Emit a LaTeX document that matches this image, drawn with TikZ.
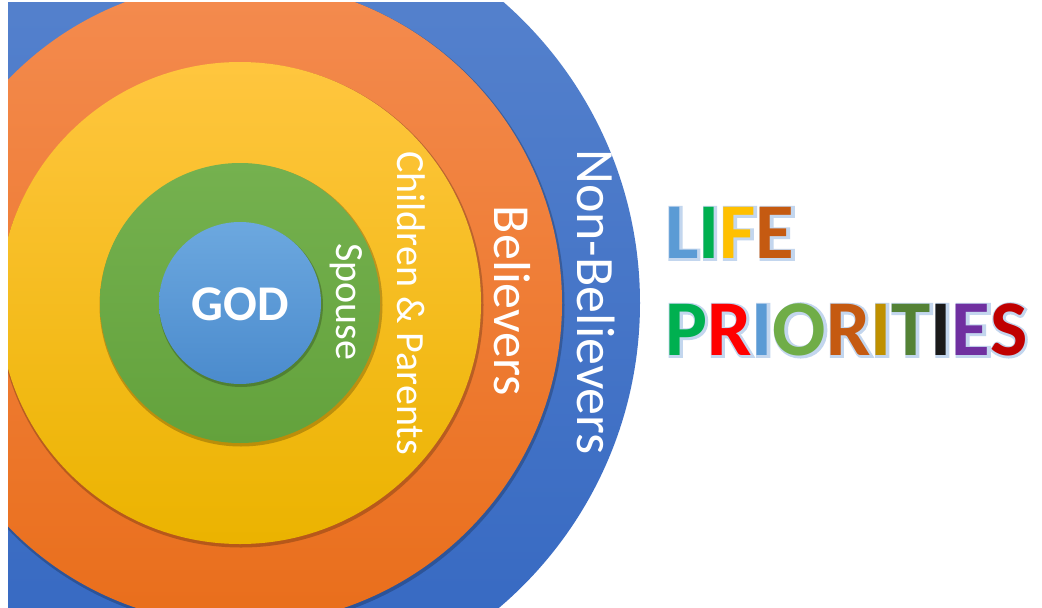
\documentclass[tikz,border=0pt]{standalone}
\usepackage{fontspec}
\setmainfont{Carlito}
\newfontfamily\halofont{Carlito}[BoldFont={Carlito Bold}, BoldFeatures={FakeBold=5}]
\definecolor{blueTop}{HTML}{5884CE}
\definecolor{blueBot}{HTML}{3467C1}
\definecolor{orTop}{HTML}{F48B4F}
\definecolor{orBot}{HTML}{E96E1B}
\definecolor{yeTop}{HTML}{FFC63F}
\definecolor{yeBot}{HTML}{EBB300}
\definecolor{grTop}{HTML}{75B14F}
\definecolor{grBot}{HTML}{63A23C}
\definecolor{goTop}{HTML}{6CA8DF}
\definecolor{goBot}{HTML}{4B8BCD}
\definecolor{halo}{HTML}{C3D6EE}
\definecolor{cL}{HTML}{5B9BD5}
\definecolor{cI}{HTML}{00B050}
\definecolor{cF}{HTML}{FFC000}
\definecolor{cE}{HTML}{C55A11}
\definecolor{cP}{HTML}{00B050}
\definecolor{cR}{HTML}{FF0000}
\definecolor{cIb}{HTML}{5B9BD5}
\definecolor{cO}{HTML}{70AD47}
\definecolor{cRb}{HTML}{C55A11}
\definecolor{cIg}{HTML}{BF9000}
\definecolor{cT}{HTML}{548235}
\definecolor{cIk}{HTML}{1A1A1A}
\definecolor{cEp}{HTML}{7030A0}
\definecolor{cS}{HTML}{C00000}
\newif\ifhalo
\newcommand\ltr[2]{\ifhalo#2\else\textcolor{#1}{#2}\fi}
\newcommand\lifeword{\ltr{cL}{L}\ltr{cI}{I}\ltr{cF}{F}\ltr{cE}{E}}
\newcommand\priword{\ltr{cP}{P}\ltr{cR}{R}\ltr{cIb}{I}\ltr{cO}{O}\ltr{cRb}{R}\ltr{cIg}{I}\ltr{cT}{T}\ltr{cIk}{I}\ltr{cEp}{E}\ltr{cS}{S}}
\tikzset{
  ring/.style={draw=none},
  ringshadow/.style={fill=black, opacity=0.22},
  ringtext/.style={text=white, font=\fontsize{#1}{#1}\selectfont, inner sep=0pt, rotate=-90},
  titletext/.style={anchor=base west, inner sep=0pt, font=\bfseries\fontsize{79}{79}\selectfont},
  titlehalo/.style={anchor=base west, inner sep=0pt, text=halo, font=\halofont\bfseries\fontsize{79}{79}\selectfont}
}
\begin{document}
\begin{tikzpicture}[x=1pt,y=-1pt]
\useasboundingbox (0,0) rectangle (1042,608);
\fill[white] (0,0) rectangle (1042,608);
\coordinate (c) at (240,303);
\coordinate (cs) at (241,305);
\begin{scope}
\clip (8,2) rectangle (1042,608);
\shade[ring, top color=blueTop, bottom color=blueBot] (c) circle[radius=400];
\fill[ringshadow] (cs) circle[radius=323.5];
\shade[ring, top color=orTop, bottom color=orBot] (c) circle[radius=322];
\fill[ringshadow] (cs) circle[radius=242.5];
\shade[ring, top color=yeTop, bottom color=yeBot] (c) circle[radius=241];
\fill[ringshadow] (cs) circle[radius=141.5];
\shade[ring, top color=grTop, bottom color=grBot] (c) circle[radius=140];
\fill[ringshadow] (cs) circle[radius=82];
\shade[ring, top color=goTop, bottom color=goBot] (c) circle[radius=81];
\end{scope}
\node[text=white, inner sep=0pt, font=\bfseries\fontsize{50}{50}\selectfont] (god) at (240,304) {GOD};
\node[ringtext=40] (spouse) at (346,302) {Spouse};
\node[ringtext=40] (children) at (411,303) {Children \& Parents};
\node[ringtext=52] (believers) at (512,301) {Believers};
\node[ringtext=54] (nonbel) at (596,302) {Non-Believers};
% title: light halo behind coloured letters
\halotrue
\node[titlehalo] (lifehalo) at (666,259) {\lifeword};
\node[titlehalo] (priohalo) at (666,356) {\priword};
\halofalse
\node[titletext] (life) at (665,258) {\lifeword};
\node[titletext] (prio) at (665,355) {\priword};
\end{tikzpicture}
\end{document}
